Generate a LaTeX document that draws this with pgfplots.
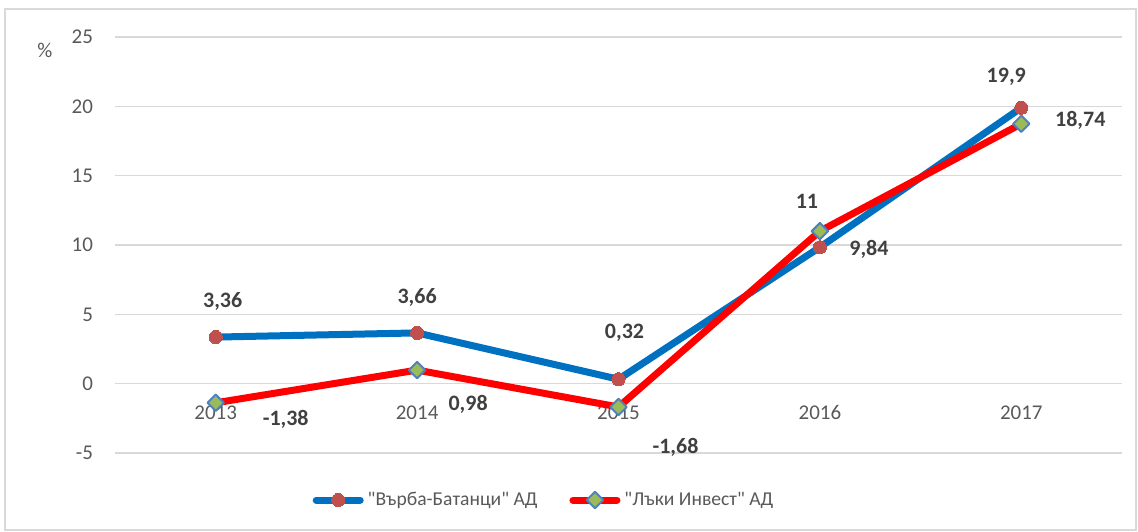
\documentclass[border=0pt]{standalone}
\usepackage{pgfplots}
\pgfplotsset{compat=1.18}
\usepackage{fontspec}
\setmainfont{Carlito}[Ligatures=TeXOff]
\definecolor{txt}{HTML}{595959}
\definecolor{lblc}{HTML}{404040}
\definecolor{gridc}{HTML}{D9D9D9}
\definecolor{sblue}{HTML}{0070C0}
\definecolor{sred}{HTML}{FF0000}
\definecolor{mred}{HTML}{C0504D}
\definecolor{mgreen}{HTML}{9BBB59}
\definecolor{medge}{HTML}{4F81BD}

\begin{document}
\begin{tikzpicture}[lb/.style={font=\fontsize{11}{13}\selectfont\bfseries, text=lblc}]
\path[use as bounding box] (0,0) rectangle (569pt,265.5pt);
\draw[gridc, line width=0.7pt] (2.5pt,0.5pt) rectangle (568pt,261pt);
\node[text=txt, font=\fontsize{10.5}{12}\selectfont] at (22.5pt,240.5pt) {\%};
\begin{axis}[
  at={(57.5pt,39pt)}, anchor=south west,
  scale only axis, width=503.5pt, height=208pt,
  xmin=-0.5, xmax=4.5, ymin=-5, ymax=25,
  xtick={0,...,4}, xticklabels={2013,2014,2015,2016,2017},
  ytick={-5,0,...,25},
  ymajorgrids, grid style={gridc, line width=0.7pt},
  axis line style={draw=none}, major tick length=0pt,
  tick label style={text=txt, font=\fontsize{10.5}{12}\selectfont},
  /pgf/number format/assume math mode=true,
  xticklabel style={yshift=27.2pt},
  yticklabel style={xshift=-7.5pt},
  clip=false,
  legend style={at={(0.427,-0.113)}, anchor=center, draw=none,
    legend columns=-1, font=\fontsize{9.8}{12}\selectfont, text=txt,
    /tikz/every even column/.append style={column sep=14pt}},
  legend image code/.code={\draw[mark repeat=2,mark phase=2,#1,line cap=round]
    plot coordinates {(0pt,0pt) (11pt,0pt) (22pt,0pt)};},
]
\addplot[sblue, line width=3.5pt, line join=round, mark=*, mark size=3.3pt,
  mark options={fill=mred, draw=mred, line width=0pt}]
  coordinates {(0,3.36) (1,3.66) (2,0.32) (3,9.84) (4,19.9)};
\addlegendentry{"Върба-Батанци" АД}
\addplot[sred, line width=3.5pt, line join=round, mark=square*, mark size=2.9pt,
  mark options={rotate=45, fill=mgreen, draw=medge, line width=1pt}]
  coordinates {(0,-1.38) (1,0.98) (2,-1.68) (3,11) (4,18.74)};
\addlegendentry{"Лъки Инвест" АД}

% data labels, first series
\node[lb, xshift=3.5pt, yshift=17.7pt] at (axis cs:0,3.36) {3,36};
\node[lb, yshift=17.7pt] at (axis cs:1,3.66) {3,66};
\node[lb, xshift=3pt, yshift=23.3pt] at (axis cs:2,0.32) {0,32};
\node[lb, xshift=24.5pt, yshift=-1pt] at (axis cs:3,9.84) {9,84};
\node[lb, xshift=-7.5pt, yshift=15.3pt] at (axis cs:4,19.9) {19,9};
% data labels, second series
\node[lb, xshift=35pt, yshift=-8.5pt] at (axis cs:0,-1.38) {-1,38};
\node[lb, xshift=25.5pt, yshift=-17.3pt] at (axis cs:1,0.98) {0,98};
\node[lb, xshift=28.5pt, yshift=-20.3pt] at (axis cs:2,-1.68) {-1,68};
\node[lb, xshift=-6.5pt, yshift=15pt] at (axis cs:3,11) {11};
\node[lb, xshift=29.5pt, yshift=1.8pt] at (axis cs:4,18.74) {18,74};
\end{axis}
\end{tikzpicture}
\end{document}
